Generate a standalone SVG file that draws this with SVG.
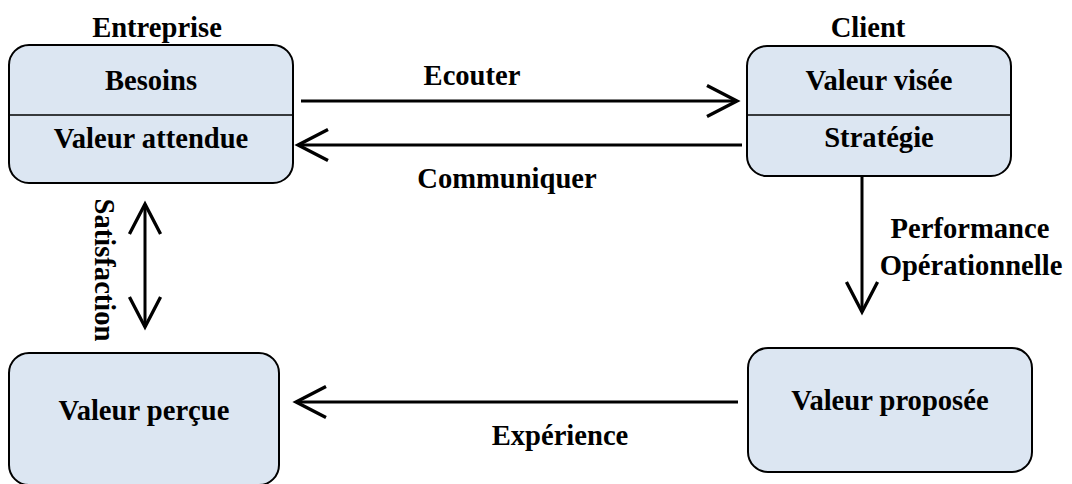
<svg xmlns="http://www.w3.org/2000/svg" width="1072" height="484" viewBox="0 0 1072 484">
<style>
.box{fill:#dce6f2;stroke:#000;stroke-width:2}
.div{stroke:#000;stroke-width:1.5}
.t{font-family:"Liberation Serif","Times New Roman",serif;font-weight:bold;font-size:28.6px;fill:#000;text-anchor:middle}
.c{fill:none;stroke:#000;stroke-width:3}
</style>
<defs>
<marker id="ah" markerUnits="userSpaceOnUse" markerWidth="40" markerHeight="40" viewBox="-32 -18 36 36" refX="0" refY="0" orient="auto-start-reverse">
<path d="M-27,-14 L0,0 L-27,14" fill="none" stroke="#000" stroke-width="3"/>
</marker>
</defs>
<rect width="1072" height="484" fill="#fff"/>
<g id="connectors">
<line class="c" x1="301" y1="101" x2="737" y2="101" marker-end="url(#ah)"/>
<line class="c" x1="742" y1="145" x2="298" y2="145" marker-end="url(#ah)"/>
<line class="c" x1="862" y1="177" x2="862" y2="312" marker-end="url(#ah)"/>
<line class="c" x1="738" y1="402" x2="296" y2="402" marker-end="url(#ah)"/>
<line class="c" x1="145" y1="204" x2="145" y2="327" marker-start="url(#ah)" marker-end="url(#ah)"/>
<text class="t" x="472" y="85">Ecouter</text>
<text class="t" x="507" y="188">Communiquer</text>
<text class="t" x="970" y="238">Performance</text>
<text class="t" x="971" y="275">Opérationnelle</text>
<text class="t" x="560" y="445">Expérience</text>
<text class="t" transform="translate(95,270) rotate(90)">Satisfaction</text>
</g>
<g id="entreprise">
<text class="t" x="157" y="37">Entreprise</text>
<rect class="box" x="9" y="45" width="284" height="138" rx="20"/>
<line class="div" x1="9" y1="115" x2="293" y2="115"/>
<text class="t" x="151" y="90">Besoins</text>
<text class="t" x="151" y="148">Valeur attendue</text>
</g>
<g id="client">
<text class="t" x="868" y="37">Client</text>
<rect class="box" x="747" y="46" width="264" height="130" rx="20"/>
<line class="div" x1="747" y1="115" x2="1011" y2="115"/>
<text class="t" x="879" y="90">Valeur visée</text>
<text class="t" x="879" y="147">Stratégie</text>
</g>
<g id="valeur-percue">
<rect class="box" x="9" y="353" width="270" height="132" rx="20"/>
<text class="t" x="144" y="420">Valeur perçue</text>
</g>
<g id="valeur-proposee">
<rect class="box" x="748" y="348" width="284" height="124" rx="20"/>
<text class="t" x="890" y="410">Valeur proposée</text>
</g>
</svg>
